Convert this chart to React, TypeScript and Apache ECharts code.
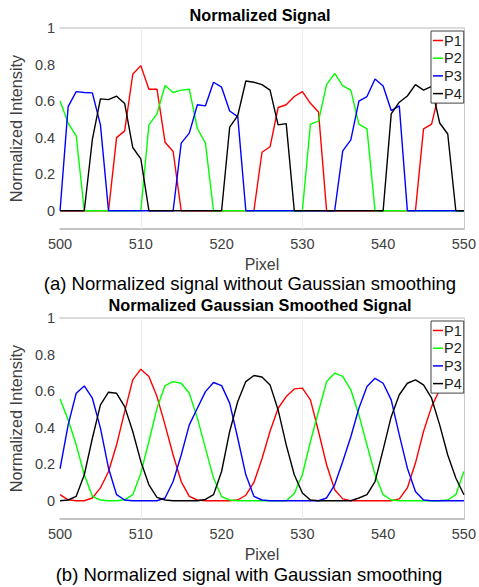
import React, { useEffect, useRef } from "react";
import * as echarts from "echarts";

const pixels = [
  500, 501, 502, 503, 504, 505, 506, 507, 508, 509, 510, 511, 512, 513, 514, 515, 516,
  517, 518, 519, 520, 521, 522, 523, 524, 525, 526, 527, 528, 529, 530, 531, 532, 533,
  534, 535, 536, 537, 538, 539, 540, 541, 542, 543, 544, 545, 546, 547, 548, 549, 550,
];

const seriesNames = ["P1", "P2", "P3", "P4"];
const seriesColors = ["#ff0000", "#00ff00", "#0000ff", "#000000"];
const gridLineXs = [510, 530];

// (a) raw normalized signal
const rawP1 = [
  0, 0, 0, 0, 0, 0, 0, 0.4, 0.437, 0.747, 0.794, 0.665, 0.665, 0.375, 0.324, 0, 0,
  0, 0, 0, 0, 0, 0, 0, 0, 0.32, 0.35, 0.565, 0.58, 0.625, 0.652, 0.588, 0.54, 0,
  0, 0, 0, 0, 0, 0, 0, 0, 0, 0, 0, 0.448, 0.474, 0.66, 0.7, 0.72, 0.71,
];
const rawP2 = [
  0.6, 0.48, 0.41, 0, 0, 0, 0, 0, 0, 0, 0, 0.47, 0.53, 0.685, 0.647, 0.66, 0.665,
  0.45, 0.37, 0, 0, 0, 0, 0, 0, 0, 0, 0, 0, 0, 0, 0.474, 0.49, 0.69,
  0.752, 0.683, 0.66, 0.474, 0.448, 0, 0, 0, 0, 0, 0, 0, 0, 0, 0, 0, 0,
];
const rawP3 = [
  0, 0.57, 0.652, 0.647, 0.645, 0.47, 0, 0, 0, 0, 0, 0, 0, 0, 0, 0.37, 0.425,
  0.58, 0.574, 0.703, 0.676, 0.546, 0.515, 0, 0, 0, 0, 0, 0, 0, 0, 0, 0, 0,
  0, 0.328, 0.388, 0.6, 0.625, 0.721, 0.683, 0.548, 0.574, 0, 0, 0, 0, 0, 0, 0, 0,
];
const rawP4 = [
  0, 0, 0, 0, 0.39, 0.612, 0.608, 0.627, 0.587, 0.346, 0.284, 0, 0, 0, 0, 0, 0,
  0, 0, 0, 0, 0.457, 0.52, 0.71, 0.703, 0.69, 0.66, 0.47, 0.477, 0, 0, 0, 0, 0,
  0, 0, 0, 0, 0, 0, 0, 0.53, 0.594, 0.628, 0.69, 0.66, 0.68, 0.48, 0.42, 0, 0,
];

// (b) gaussian smoothed signal
const smP1 = [
  0.033, 0.005, 0, 0, 0.015, 0.07, 0.16, 0.306, 0.488, 0.661, 0.72, 0.68, 0.57, 0.415, 0.25, 0.105, 0.024,
  0.004, 0, 0, 0, 0, 0.004, 0.03, 0.1, 0.23, 0.38, 0.506, 0.57, 0.612, 0.616, 0.552, 0.379, 0.197,
  0.06, 0.01, 0, 0, 0, 0, 0, 0, 0.01, 0.07, 0.206, 0.379, 0.515, 0.607, 0.66, 0.685, 0.68,
];
const smP2 = [
  0.557, 0.443, 0.306, 0.142, 0.024, 0.004, 0, 0, 0.005, 0.033, 0.151, 0.324, 0.506, 0.63, 0.652, 0.643, 0.588,
  0.452, 0.288, 0.124, 0.022, 0.004, 0, 0, 0, 0, 0, 0, 0, 0.04, 0.142, 0.324, 0.488, 0.652,
  0.698, 0.68, 0.607, 0.47, 0.306, 0.142, 0.033, 0.004, 0, 0, 0, 0, 0, 0, 0.004, 0.033, 0.16,
];
const smP3 = [
  0.175, 0.415, 0.588, 0.628, 0.561, 0.397, 0.178, 0.033, 0.004, 0, 0, 0, 0, 0.015, 0.105, 0.25, 0.415,
  0.506, 0.597, 0.647, 0.63, 0.534, 0.342, 0.142, 0.024, 0.004, 0, 0, 0, 0, 0, 0, 0, 0.015,
  0.087, 0.215, 0.35, 0.506, 0.625, 0.67, 0.643, 0.552, 0.36, 0.178, 0.051, 0.004, 0, 0, 0, 0, 0,
];
const smP4 = [
  0, 0.004, 0.024, 0.142, 0.342, 0.525, 0.594, 0.588, 0.515, 0.379, 0.215, 0.087, 0.018, 0.004, 0, 0, 0,
  0, 0.007, 0.033, 0.16, 0.379, 0.543, 0.652, 0.685, 0.677, 0.634, 0.497, 0.306, 0.142, 0.042, 0.004, 0, 0,
  0, 0, 0, 0.015, 0.033, 0.105, 0.28, 0.46, 0.58, 0.643, 0.661, 0.634, 0.561, 0.415, 0.25, 0.124, 0.033,
];

const panelTitles = ["Normalized Signal", "Normalized Gaussian Smoothed Signal"];
const captions = [
  "(a) Normalized signal without Gaussian smoothing",
  "(b) Normalized signal with Gaussian smoothing",
];

const FONT = "'Liberation Sans', Arial, Helvetica, sans-serif";

export default function App() {
  const ref = useRef<HTMLDivElement>(null);

  useEffect(() => {
    if (!ref.current) return;
    const chart = echarts.init(ref.current, undefined, { renderer: "svg" });

    const panels = [
      [rawP1, rawP2, rawP3, rawP4],
      [smP1, smP2, smP3, smP4],
    ];
    const gridTops = [28, 318];
    const gridH = 201;

    const grids = gridTops.map((t) => ({ left: 52, right: 12, top: t, height: gridH }));

    const xAxes: any[] = [];
    const yAxes: any[] = [];
    [0, 1].forEach((g) => {
      xAxes.push({
        type: "value",
        gridIndex: g,
        min: 500,
        max: 550,
        interval: 10,
        name: "Pixel",
        nameLocation: "middle",
        nameGap: 27,
        nameTextStyle: { fontFamily: FONT, fontSize: 16, color: "#404040" },
        axisLine: { show: true, onZero: false, lineStyle: { color: "#b0b0b0", width: 1.5 } },
        axisTick: { show: false },
        splitLine: { show: false },
        axisLabel: { fontFamily: FONT, fontSize: 14.5, color: "#404040", margin: 7 },
      });
    });
    [0, 1].forEach((g) => {
      xAxes.push({
        type: "value",
        gridIndex: g,
        position: "top",
        min: 500,
        max: 550,
        axisLine: { show: true, onZero: false, lineStyle: { color: "#dcdcdc", width: 2 } },
        axisTick: { show: false },
        axisLabel: { show: false },
        splitLine: { show: false },
      });
    });
    [0, 1].forEach((g) => {
      yAxes.push({
        type: "value",
        gridIndex: g,
        min: -0.1,
        max: 1,
        interval: 0.1,
        name: "Normalized Intensity",
        nameLocation: "middle",
        nameGap: 23,
        nameRotate: 90,
        nameTextStyle: { fontFamily: FONT, fontSize: 16.3, color: "#404040" },
        axisLine: { show: false, onZero: false },
        axisTick: { show: false },
        splitLine: { show: false },
        axisLabel: {
          fontFamily: FONT,
          fontSize: 14.5,
          color: "#404040",
          margin: 5,
          formatter: (v: number) => {
            const t = Math.round(v * 10);
            if (t < 0 || t % 2 !== 0) return "";
            return String(t / 10);
          },
        },
      });
    });
    [0, 1].forEach((g) => {
      yAxes.push({
        type: "value",
        gridIndex: g,
        position: "right",
        min: -0.1,
        max: 1,
        axisLine: { show: true, onZero: false, lineStyle: { color: "#c8c8c8", width: 1 } },
        axisTick: { show: false },
        axisLabel: { show: false },
        splitLine: { show: false },
      });
    });

    const series: any[] = [];
    panels.forEach((vals, g) => {
      vals.forEach((arr, i) => {
        const s: any = {
          type: "line",
          name: seriesNames[i],
          xAxisIndex: g,
          yAxisIndex: g,
          data: pixels.map((p, j) => [p, arr[j]]),
          showSymbol: false,
          symbol: "none",
          lineStyle: { color: seriesColors[i], width: 1.4 },
          itemStyle: { color: seriesColors[i] },
          z: 3,
        };
        if (i === 0) {
          s.markLine = {
            silent: true,
            symbol: "none",
            label: { show: false },
            lineStyle: { color: "#ededed", width: 1, type: "solid" },
            data: gridLineXs.map((x) => ({ xAxis: x })),
            z: 1,
          };
        }
        series.push(s);
      });
    });

    const legends = gridTops.map((t) => ({
      orient: "vertical",
      left: 431,
      top: t + 3,
      data: seriesNames,
      icon: "rect",
      itemWidth: 10,
      itemHeight: 1.5,
      itemGap: 2.7,
      padding: [2, 2, 2, 2],
      backgroundColor: "#ffffff",
      borderColor: "#404040",
      borderWidth: 1,
      borderRadius: 0,
      selectedMode: false,
      z: 10,
      textStyle: {
        fontFamily: FONT,
        fontSize: 14.5,
        color: "#222222",
        lineHeight: 14,
        padding: [0, 0, 0, -4],
      },
    }));

    const graphicTexts: any[] = [
      { x: 260, y: 15, text: panelTitles[0], font: `bold 16.3px ${FONT}` },
      { x: 260, y: 305, text: panelTitles[1], font: `bold 16.3px ${FONT}` },
      { x: 250, y: 283, text: captions[0], font: `18.5px ${FONT}` },
      { x: 249, y: 574, text: captions[1], font: `18.5px ${FONT}` },
    ].map((d) => ({
      type: "text",
      x: d.x,
      y: d.y,
      silent: true,
      style: {
        text: d.text,
        font: d.font,
        fill: "#000000",
        textAlign: "center",
        textVerticalAlign: "middle",
      },
    }));

    chart.setOption({
      animation: false,
      backgroundColor: "#ffffff",
      grid: grids,
      xAxis: xAxes,
      yAxis: yAxes,
      legend: legends,
      series,
      graphic: graphicTexts,
    });

    return () => chart.dispose();
  }, []);

  return (
    <div
      ref={ref}
      style={{ position: "absolute", left: 0, top: 0, width: 479, height: 587 }}
    />
  );
}
